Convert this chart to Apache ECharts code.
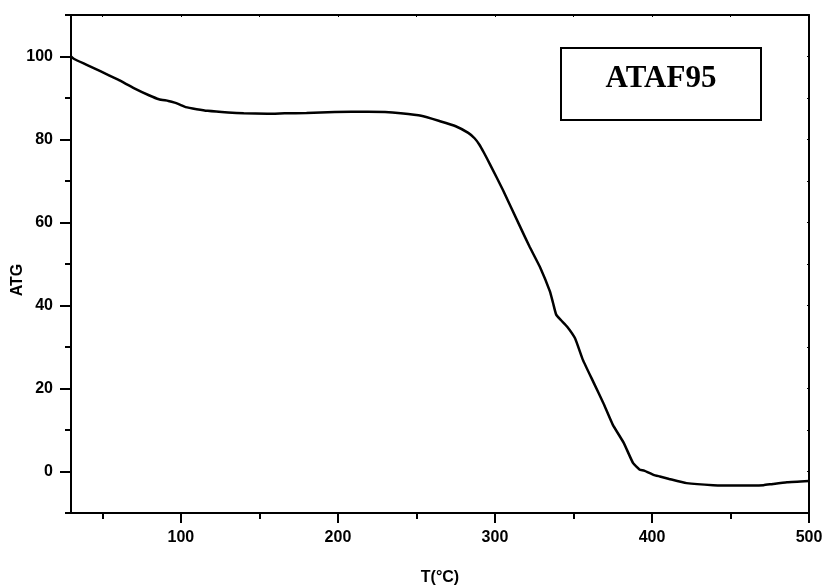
<!DOCTYPE html>
<html>
<head>
<meta charset="utf-8">
<script src="https://cdn.jsdelivr.net/npm/echarts@6/dist/echarts.min.js"></script>
<style>
  html, body { margin: 0; padding: 0; background: #fff; }
  #chart { width: 824px; height: 586px; }
</style>
</head>
<body>
<div id="chart"></div>
<script>
// Thermogravimetric curve of ATAF95: temperature (°C) vs residual mass (ATG)
const temps = [30, 32, 40, 49, 60, 70, 80, 86, 92, 96, 100, 103, 110, 117, 130, 140, 155, 166, 180, 198,
               219, 230, 240, 253, 265, 275, 283, 287, 290, 293, 297, 305, 316, 322, 329, 335, 337, 339, 342, 346,
               351, 356, 363, 369, 375, 382, 388, 392, 395, 401, 405, 411, 422, 439, 454, 465, 471, 477, 486, 500];
const atg = [100.0, 99.4, 98.0, 96.4, 94.4, 92.4, 90.6, 89.7, 89.3, 88.9, 88.3, 87.8, 87.3, 86.9, 86.5, 86.3, 86.2, 86.3, 86.4, 86.6,
             86.7, 86.6, 86.3, 85.7, 84.4, 83.2, 81.6, 80.3, 78.8, 76.8, 73.9, 67.9, 59.0, 54.2, 49.0, 43.4, 40.6, 37.8, 36.5, 34.9,
             32.1, 26.9, 21.3, 16.5, 11.3, 6.9, 2.0, 0.5, 0.2, -0.8, -1.2, -1.8, -2.8, -3.3, -3.4, -3.4, -3.3, -3.0, -2.6, -2.3];

// Axis ranges and tick positions
const xRange = [30, 500];
const yRange = [-10, 110];
const xMajorTicks = [100, 200, 300, 400, 500];
const xMinorTicks = [50, 150, 250, 350, 450];
const xTopTicks = [50, 100, 150, 200, 250, 300, 350, 400, 450, 500];
const yMajorTicks = [0, 20, 40, 60, 80, 100];
const yMinorTicks = [-10, 10, 30, 50, 70, 90, 110];
const yRightTicks = [-10, 0, 10, 20, 30, 40, 50, 60, 70, 80, 90, 100, 110];

const sampleName = 'ATAF95';
const xTitle = 'T(°C)';
const yTitle = 'ATG';

const black = '#000';
const labelFont = { fontFamily: 'Liberation Sans, Arial, sans-serif', fontWeight: 'bold', fontSize: 16, color: black };
const titleFont = { fontFamily: 'Liberation Sans, Arial, sans-serif', fontWeight: 'bold', fontSize: 16, color: black };
const lineStyle = { color: black, width: 2 };

// An axis that only draws tick marks (used for the minor ticks)
function tickOnlyAxis(extra) {
  return Object.assign({
    type: 'value',
    axisLine: { show: false, onZero: false },
    axisLabel: { show: false },
    splitLine: { show: false }
  }, extra);
}

const chart = echarts.init(document.getElementById('chart'), null, { renderer: 'canvas' });

chart.setOption({
  animation: false,
  backgroundColor: '#fff',
  grid: { left: 71, right: 15, top: 15, bottom: 73, containLabel: false, outerBoundsMode: 'none' },
  xAxis: [
    {
      type: 'value', position: 'bottom', min: xRange[0], max: xRange[1],
      axisLine: { show: true, onZero: false, lineStyle: lineStyle },
      axisTick: { show: true, customValues: xMajorTicks, length: 10, lineStyle: lineStyle },
      axisLabel: Object.assign({ customValues: xMajorTicks, margin: 17 }, labelFont),
      splitLine: { show: false },
      name: xTitle, nameLocation: 'middle', nameGap: 57, nameMoveOverlap: false, nameTextStyle: titleFont
    },
    tickOnlyAxis({
      position: 'bottom', min: xRange[0], max: xRange[1],
      axisTick: { show: true, customValues: xMinorTicks, length: 6, lineStyle: lineStyle }
    }),
    {
      type: 'value', position: 'top', min: xRange[0], max: xRange[1],
      axisLine: { show: true, onZero: false, lineStyle: lineStyle },
      axisTick: { show: true, inside: true, customValues: xTopTicks, length: 2, lineStyle: { color: black, width: 1 } },
      axisLabel: { show: false },
      splitLine: { show: false }
    }
  ],
  yAxis: [
    {
      type: 'value', position: 'left', min: yRange[0], max: yRange[1],
      axisLine: { show: true, onZero: false, lineStyle: lineStyle },
      axisTick: { show: true, customValues: yMajorTicks, length: 11, lineStyle: lineStyle },
      axisLabel: Object.assign({ customValues: yMajorTicks, margin: 18 }, labelFont),
      splitLine: { show: false },
      name: yTitle, nameLocation: 'middle', nameGap: 45, nameRotate: 90, nameMoveOverlap: false,
      // padding on the trailing side shifts the rotated title slightly downward
      nameTextStyle: Object.assign({ padding: [0, 32, 0, 0] }, titleFont)
    },
    tickOnlyAxis({
      position: 'left', min: yRange[0], max: yRange[1],
      axisTick: { show: true, customValues: yMinorTicks, length: 6, lineStyle: lineStyle }
    }),
    {
      type: 'value', position: 'right', min: yRange[0], max: yRange[1],
      axisLine: { show: true, onZero: false, lineStyle: lineStyle },
      axisTick: { show: true, inside: true, customValues: yRightTicks, length: 2, lineStyle: { color: black, width: 1 } },
      axisLabel: { show: false },
      splitLine: { show: false }
    }
  ],
  graphic: [
    {
      type: 'rect',
      shape: { x: 561, y: 48, width: 200, height: 72 },
      style: { fill: '#fff', stroke: black, lineWidth: 2 },
      z: 10
    },
    {
      type: 'text',
      x: 661, y: 79,
      style: {
        text: sampleName,
        font: 'bold 31px "Liberation Serif", "Times New Roman", serif',
        fill: black,
        align: 'center',
        verticalAlign: 'middle'
      },
      z: 11
    }
  ],
  series: [
    {
      type: 'line',
      xAxisIndex: 0,
      yAxisIndex: 0,
      data: temps.map((t, i) => [t, atg[i]]),
      showSymbol: false,
      symbol: 'none',
      smooth: 0.15,
      lineStyle: { color: black, width: 2.5 },
      clip: true
    }
  ]
});
</script>
</body>
</html>
